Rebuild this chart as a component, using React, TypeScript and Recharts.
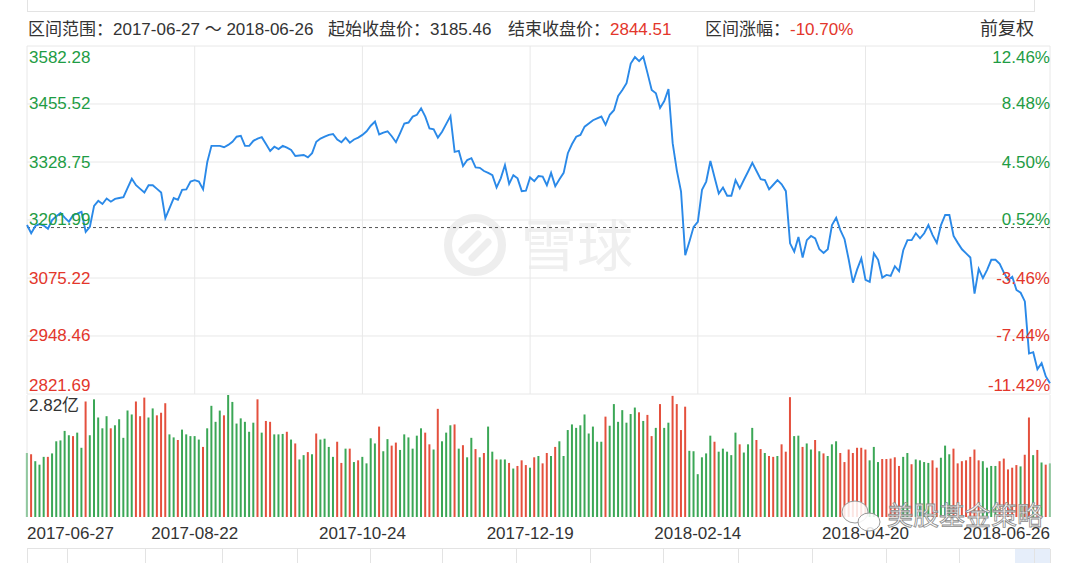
import { LineChart, Line, BarChart, Bar, Cell, XAxis, YAxis, ReferenceLine } from "recharts";

// daily close, 2017-06-27 .. 2018-06-26 (245 trading days)
const prices = [
  3191, 3173, 3189, 3193, 3190, 3183, 3202, 3210, 3217, 3207,
  3198, 3213, 3216, 3220, 3176, 3187, 3233, 3244, 3237, 3249,
  3242, 3248, 3250, 3252, 3272, 3292, 3278, 3270, 3262, 3278,
  3278, 3270, 3262, 3206, 3228, 3250, 3246, 3268, 3269, 3286,
  3289, 3286, 3269, 3329, 3364, 3364, 3364, 3361, 3366, 3373,
  3384, 3386, 3364, 3364, 3375, 3380, 3383, 3368, 3353, 3362,
  3357, 3364, 3360, 3355, 3342, 3343, 3344, 3339, 3348, 3373,
  3380, 3384, 3388, 3390, 3378, 3372, 3382, 3371, 3378, 3382,
  3388, 3396, 3408, 3417, 3389, 3393, 3396, 3385, 3372, 3392,
  3413, 3415, 3428, 3432, 3446, 3428, 3402, 3400, 3382, 3395,
  3412, 3429, 3351, 3353, 3320, 3333, 3337, 3317, 3316, 3309,
  3305, 3300, 3273, 3293, 3322, 3281, 3300, 3293, 3265, 3266,
  3295, 3287, 3298, 3297, 3278, 3305, 3276, 3291, 3305, 3348,
  3368, 3384, 3388, 3406, 3413, 3420, 3424, 3428, 3410, 3432,
  3442, 3473, 3486, 3501, 3544, 3558, 3549, 3559, 3523, 3486,
  3479, 3447, 3462, 3488, 3370, 3310, 3264, 3125, 3155, 3187,
  3198, 3268, 3286, 3331, 3295, 3260, 3273, 3255, 3255, 3289,
  3271, 3290, 3308, 3327, 3309, 3291, 3289, 3269, 3279, 3289,
  3280, 3265, 3151, 3133, 3165, 3120, 3158, 3167, 3162, 3138,
  3130, 3138, 3191, 3207, 3180, 3160, 3115, 3065, 3094, 3118,
  3071, 3067, 3129, 3115, 3076, 3082, 3080, 3101, 3090, 3136,
  3158, 3158, 3173, 3162, 3173, 3191, 3169, 3152, 3191, 3213,
  3213, 3167, 3152, 3138, 3129, 3120, 3041, 3095, 3075, 3093,
  3115, 3115, 3106, 3087, 3071, 3078, 3049, 3043, 3024, 2910,
  2913, 2876, 2889, 2860, 2845,
];

// volume in 亿
const volumes = [
  1.48, 1.45, 1.29, 1.21, 1.39, 1.39, 1.47, 1.75, 1.77, 1.99,
  1.89, 1.87, 1.95, 1.6, 2.67, 1.89, 2.72, 2.3, 2.05, 2.33,
  2.05, 2.12, 2.26, 1.83, 2.46, 2.37, 2.67, 2.33, 2.76, 2.3,
  2.51, 2.35, 2.41, 2.63, 1.91, 1.84, 1.78, 2.02, 1.91, 1.87,
  1.87, 1.79, 1.62, 2.05, 2.57, 2.2, 2.46, 2.35, 2.82, 2.66,
  2.16, 2.28, 2.2, 1.97, 2.18, 2.72, 1.95, 2.22, 2.2, 1.91,
  1.91, 1.92, 1.97, 1.79, 1.7, 1.33, 1.43, 1.5, 1.45, 1.93,
  1.79, 1.81, 1.62, 1.39, 1.74, 1.25, 1.58, 1.58, 1.27, 1.31,
  1.39, 1.24, 1.82, 1.7, 2.09, 1.52, 1.8, 1.65, 1.72, 1.55,
  1.91, 1.84, 1.58, 1.88, 2.05, 1.95, 1.68, 1.56, 2.5, 1.75,
  1.95, 2.12, 2.14, 1.58, 1.66, 1.38, 1.83, 1.57, 1.38, 1.48,
  2.09, 1.51, 1.33, 1.33, 1.33, 1.25, 1.12, 1.18, 1.31, 1.2,
  1.14, 1.38, 1.41, 1.24, 1.48, 1.41, 1.62, 1.75, 1.41, 2.01,
  2.14, 2.06, 2.12, 2.37, 1.93, 2.09, 1.74, 1.74, 2.32, 2.11,
  2.61, 2.2, 2.47, 2.18, 2.38, 2.53, 2.42, 2.22, 2.36, 1.87,
  2.06, 2.61, 2.06, 2.18, 2.8, 2.61, 2.01, 2.55, 1.53, 1.52,
  0.99, 1.38, 1.47, 1.88, 1.74, 1.51, 1.58, 1.51, 1.43, 1.95,
  1.68, 1.49, 1.68, 2.06, 1.78, 1.57, 1.48, 1.41, 1.39, 1.41,
  1.68, 1.51, 2.77, 1.87, 1.88, 1.62, 1.7, 1.56, 1.78, 1.52,
  1.47, 1.41, 1.68, 1.75, 1.48, 1.27, 1.56, 1.48, 1.6, 1.6,
  1.56, 1.31, 1.62, 1.27, 1.34, 1.34, 1.35, 1.38, 1.18, 1.39,
  1.48, 1.22, 1.33, 1.31, 1.27, 1.25, 1.31, 1.14, 1.37, 1.65,
  1.45, 1.58, 1.24, 1.29, 1.31, 1.39, 1.56, 1.31, 1.29, 1.14,
  1.18, 1.18, 1.29, 1.35, 1.1, 1.14, 1.2, 1.17, 1.44, 2.3,
  1.43, 1.55, 1.26, 1.21, 1.24,
];

// G = green bar, R = red bar
const volumeDir = (
  "GRGGGRGGGG" + "GRGGRGGGGG" + "RGGGGGRRRG" + "GRRRGGRGGG" +
  "GGRGGGGRGG" + "GGGGGRGRRG" + "GGRGRGGRGR" + "GGGGRRGRGR" +
  "GGGGRGGRRG" + "GGGGGRRGRG" + "GGRGRGGRGR" + "GGRGGRGRRR" +
  "GRGRRGRGGG" + "GGGGGGGGRG" + "GGGGGGRGRR" + "GRGGRRRRGG" +
  "GGGGRGGGGG" + "RGGGRRGRRG" + "RRRGGRGGRG" + "RGGGRRRRRR" +
  "RGGGRRRRRG" + "GRGGGGRRGG" + "GRRRRRRRGG" + "GGRRRRRGRR" +
  "GRGRG"
).split("");

const basePrice = 3185.46;
const priceTicks = [2821.69, 2948.46, 3075.22, 3201.99, 3328.75, 3455.52, 3582.28];
const pctLabels = ["-11.42%", "-7.44%", "-3.46%", "0.52%", "4.50%", "8.48%", "12.46%"];
const dateTicks = [0, 40, 80, 120, 160, 200, 244];
const dateLabels = ["2017-06-27", "2017-08-22", "2017-10-24", "2017-12-19", "2018-02-14", "2018-04-20", "2018-06-26"];
const volumeMax = 2.82;

const GREEN = "#1e9c44";
const RED = "#e3362b";
const BAR_GREEN = "#3ba756";
const BAR_RED = "#e4503d";
const GRID = "#e8e8e8";
const FONT = '"Helvetica Neue", Arial, "Liberation Sans", "Noto Sans CJK SC", sans-serif';

const data = prices.map((p, i) => ({ i, price: p, vol: volumes[i], up: volumeDir[i] === "G" }));

function nearestTick(v: number) {
  let best = 0;
  priceTicks.forEach((t, k) => {
    if (Math.abs(t - v) < Math.abs(priceTicks[best] - v)) best = k;
  });
  return best;
}

function tickOffset(idx: number) {
  if (idx === priceTicks.length - 1) return 11;
  if (idx === 0) return -9;
  return 0;
}

function LeftTick({ y, payload }: any) {
  const idx = nearestTick(payload.value);
  return (
    <text x={29} y={y + tickOffset(idx)} dominantBaseline="central" fontSize={17} fontFamily={FONT}
      fill={priceTicks[idx] >= basePrice ? GREEN : RED}>
      {priceTicks[idx].toFixed(2)}
    </text>
  );
}

function RightTick({ y, payload }: any) {
  const idx = nearestTick(payload.value);
  return (
    <text x={1050} y={y + tickOffset(idx)} textAnchor="end" dominantBaseline="central" fontSize={17}
      fontFamily={FONT} fill={priceTicks[idx] >= basePrice ? GREEN : RED}>
      {pctLabels[idx]}
    </text>
  );
}

function DateTick({ x, payload }: any) {
  const idx = dateTicks.indexOf(payload.value);
  const anchor = idx === 0 ? "start" : idx === dateTicks.length - 1 ? "end" : "middle";
  return (
    <text x={x} y={533} textAnchor={anchor} dominantBaseline="central" fontSize={17} fontFamily={FONT} fill="#333">
      {dateLabels[idx]}
    </text>
  );
}

const abs = (left: number, top: number, extra: any = {}) => ({
  position: "absolute" as const, left, top, whiteSpace: "nowrap" as const, ...extra,
});

export default function App() {
  const head = { fontSize: 17, color: "#333", fontFamily: FONT, lineHeight: "20px" };
  return (
    <div style={{ position: "absolute", left: 0, top: 0, width: 1080, height: 563, background: "#fff", overflow: "hidden" }}>
      {/* frame above header */}
      <div style={abs(27, -2, { width: 1006, height: 13, borderLeft: "1px solid #e3e3e3", borderRight: "1px solid #e3e3e3", borderBottom: "1px solid #e3e3e3" })} />

      <div style={abs(28, 20, head)}>区间范围：2017-06-27 ～ 2018-06-26</div>
      <div style={abs(328, 20, head)}>起始收盘价：3185.46</div>
      <div style={abs(508, 20, head)}>结束收盘价：<span style={{ color: RED }}>2844.51</span></div>
      <div style={abs(705, 20, head)}>区间涨幅：<span style={{ color: RED }}>-10.70%</span></div>
      <div style={abs(980, 19, { ...head, fontSize: 18 })}>前复权</div>

      {/* 雪球 watermark */}
      <svg width={1080} height={563} style={abs(0, 0)}>
        <circle cx={475} cy={245} r={27} fill="none" stroke="#eeeeee" strokeWidth={8} />
        <path d="M462 250 L478 234 M472 258 L488 242" stroke="#eeeeee" strokeWidth={7} strokeLinecap="round" />
        <text x={577} y={266} textAnchor="middle" fontSize={56} fill="#efefef" fontFamily={FONT}>雪球</text>
      </svg>

      <div style={abs(0, 0)}>
        <LineChart width={1080} height={400} data={data} margin={{ top: 46, right: 29, bottom: 6, left: 26 }}>
          <XAxis dataKey="i" type="number" domain={[0, 244]} hide />
          <YAxis yAxisId="l" domain={[priceTicks[0], priceTicks[6]]} ticks={priceTicks} interval={0} width={1}
            axisLine={false} tickLine={false} tick={<LeftTick />} allowDataOverflow />
          <YAxis yAxisId="r" orientation="right" domain={[priceTicks[0], priceTicks[6]]} ticks={priceTicks} interval={0}
            width={1} axisLine={false} tickLine={false} tick={<RightTick />} allowDataOverflow />
          {priceTicks.map((v) => (
            <ReferenceLine key={"h" + v} yAxisId="l" y={v} stroke={GRID} />
          ))}
          {dateTicks.map((t) => (
            <ReferenceLine key={"v" + t} yAxisId="l" x={t} stroke={GRID} />
          ))}
          <ReferenceLine yAxisId="l" y={basePrice} stroke="#555" strokeDasharray="3 3" />
          <Line yAxisId="l" dataKey="price" type="linear" stroke="#2a89e8" strokeWidth={1.9} dot={false}
            isAnimationActive={false} />
        </LineChart>
      </div>

      <div style={abs(0, 0)}>
        <BarChart width={1080} height={563} data={data} margin={{ top: 395, right: 30, bottom: 30, left: 27 }}>
          <XAxis dataKey="i" type="number" domain={[0, 244]} ticks={dateTicks} interval={0} height={16}
            axisLine={false} tickLine={false} tick={<DateTick />} />
          <YAxis domain={[0, volumeMax]} hide allowDataOverflow />
          <ReferenceLine x={0} stroke={GRID} />
          <ReferenceLine x={244} stroke={GRID} />
          <Bar dataKey="vol" barSize={2} isAnimationActive={false}>
            {data.map((d) => (
              <Cell key={d.i} fill={d.up ? BAR_GREEN : BAR_RED} />
            ))}
          </Bar>
        </BarChart>
      </div>

      <div style={abs(29, 396, { fontSize: 17, color: "#333", fontFamily: FONT, lineHeight: "20px" })}>2.82亿</div>

      {/* range selector strip */}
      <svg width={1080} height={563} style={abs(0, 0)}>
        <rect x={1015} y={549} width={35} height={14} fill="#e6eefa" />
        <line x1={27} y1={548.5} x2={1050} y2={548.5} stroke="#e3e3e3" />
        {[27, 67, 145, 222, 297, 370, 442, 516, 590, 663, 738, 812, 886, 959, 1034, 1050].map((x) => (
          <line key={x} x1={x + 0.5} y1={549} x2={x + 0.5} y2={563} stroke="#e3e3e3" />
        ))}
        {/* wechat mark */}
        <ellipse cx={855} cy={512} rx={13} ry={11} fill="rgba(255,255,255,0.85)" stroke="#999" strokeWidth={1} />
        <ellipse cx={869} cy={522} rx={11} ry={9} fill="rgba(255,255,255,0.85)" stroke="#999" strokeWidth={1} />
        <text x={887} y={525} fontSize={26} fill="rgba(255,255,255,0.9)" stroke="#8a8a8a" strokeWidth={0.8}
          fontFamily='"Noto Sans CJK SC", sans-serif'>美股基金策略</text>
      </svg>
    </div>
  );
}
